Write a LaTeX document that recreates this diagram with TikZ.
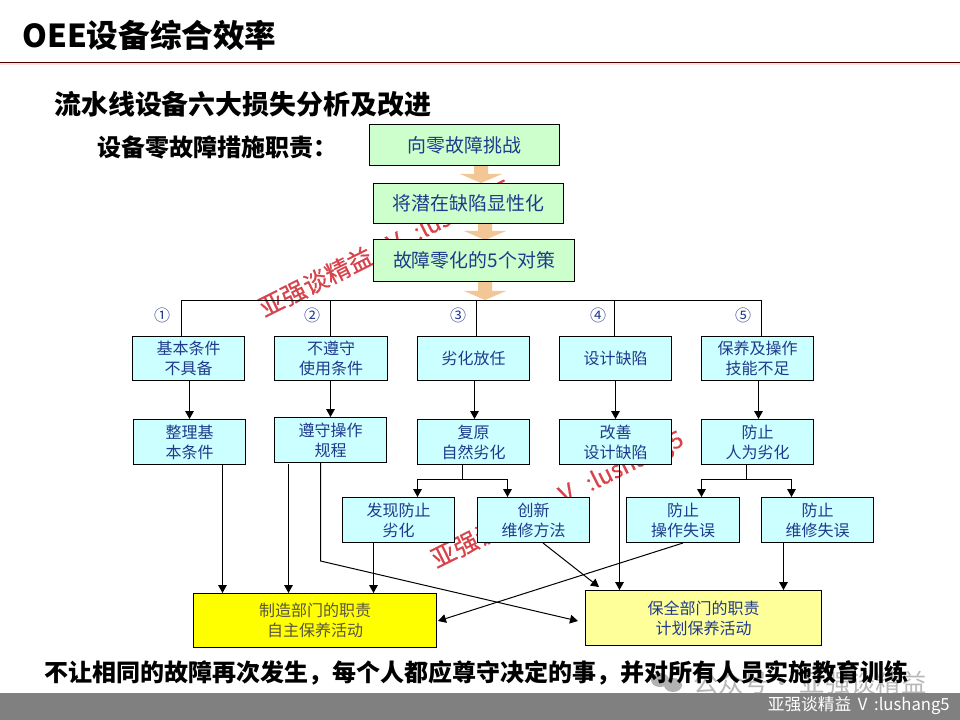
\documentclass[tikz,border=0pt]{standalone}
\usepackage{fontspec}
\setmainfont{Noto Sans CJK SC}
\newfontfamily\wmfont[FakeBold=0.5]{Noto Sans CJK SC}
\usetikzlibrary{arrows.meta,shapes.arrows}
\definecolor{inkblue}{HTML}{1F3A8C}
\definecolor{cyanbox}{HTML}{CCFFFF}
\definecolor{greenbox}{HTML}{CCFFCC}
\definecolor{paleyellow}{HTML}{FFFF99}
\definecolor{deepyellow}{HTML}{FFFF00}
\definecolor{wmred}{HTML}{D8434B}
\definecolor{fatfill}{HTML}{F2C795}
\tikzset{
  px/.style={x=0.75pt,y=-0.75pt},
  basebox/.style={draw=black,line width=0.8pt,inner sep=0pt,align=center,anchor=north west,text=inkblue,font=\fontsize{12}{15}\selectfont},
  lossbox/.style={basebox,fill=cyanbox},
  topbox/.style={basebox,fill=greenbox,font=\fontsize{14.2}{17}\selectfont},
  conn/.style={line width=0.75pt,draw=black},
  arr/.style={conn,-{Triangle[length=6pt,width=6.5pt]}},
  heading/.style={anchor=west,font=\bfseries\fontsize{20.2}{24}\selectfont,text=black},
  num/.style={text=inkblue,font=\fontsize{12}{14}\selectfont,inner sep=0pt},
  wm/.style={text=wmred,font=\wmfont\fontsize{18.5}{22}\selectfont,rotate=26.5,anchor=west,inner sep=0pt},
}
\newcommand{\bx}[7]{\node[#2,minimum width=#5*0.75pt-#3*0.75pt,minimum height=#6*0.75pt-#4*0.75pt] (#1) at (#3,#4) {#7};}
\newcommand{\wmtext}{亚强谈精益\hspace{0.8em}V\hspace{0.6em}{\fontsize{17.5}{22}\selectfont :lushang5}}
\begin{document}
\begin{tikzpicture}[px]
\useasboundingbox (0,0) rectangle (960,720);
\fill[white] (0,0) rectangle (960,720);
% watermarks
\node[wm] (wma) at (261,311) {\wmtext};
\node[wm] (wmb) at (433,562) {\wmtext};
\node[anchor=west,inner sep=0pt,text=black!28,font=\fontsize{19}{22}\selectfont] (wmc) at (693,683) {公众号·\hspace{4pt}亚强谈精益};
\fill[black!30] (660,680) ellipse [x radius=9,y radius=7];
\fill[black!30] (673,685) ellipse [x radius=9,y radius=7];
% footer
\fill[black!50] (0,693) rectangle (960,720);
\node[anchor=east,inner sep=0pt,text=white,font=\fontsize{12.5}{15}\selectfont] (foot) at (950,706) {亚强谈精益\hspace{0.4em}V\hspace{0.4em}:lushang5};
% header
\node[anchor=west,inner sep=0pt,font=\bfseries\fontsize{23.7}{28}\selectfont] (title) at (22,35) {OEE设备综合效率};
\fill[red!40!white,opacity=.3] (0,63) rectangle (960,65);
\draw[line width=0.75pt,draw=black!70!red] (0,62.5) -- (960,62.5);
\node[heading,inner sep=0pt] (sub) at (54,104) {流水线设备六大损失分析及改进};
\node[heading,inner sep=0pt,font=\bfseries\fontsize{18}{22}\selectfont] (sub2) at (97,147) {设备零故障措施职责：};
% fat arrows
\foreach \cx/\ya/\yb in {481/163/183,485/221/240,485/279/300}{
  \fill[fatfill] (\cx-7,\ya) -- (\cx+7,\ya) -- (\cx+7,\yb-9) -- (\cx+21,\yb-9) -- (\cx,\yb) -- (\cx-21,\yb-9) -- (\cx-7,\yb-9) -- cycle;
}
% top boxes
\bx{t1}{topbox}{369}{124}{559}{165}{向零故障挑战}
\bx{t2}{topbox}{373}{183}{563}{223}{将潜在缺陷显性化}
\bx{t3}{topbox}{373}{239}{574}{281}{故障零化的5个对策}
% row 1
\bx{a1}{lossbox}{132}{336}{244}{380}{基本条件\\不具备}
\bx{a2}{lossbox}{274}{336}{387}{380}{不遵守\\使用条件}
\bx{a3}{lossbox}{417}{336}{529}{380}{劣化放任}
\bx{a4}{lossbox}{559}{336}{671}{380}{设计缺陷}
\bx{a5}{lossbox}{701}{336}{813}{380}{保养及操作\\技能不足}
% row 2
\bx{b1}{lossbox}{133}{419}{245}{464}{整理基\\本条件}
\bx{b2}{lossbox}{274}{417}{386}{462}{遵守操作\\规程}
\bx{b3}{lossbox}{417}{419}{529}{464}{复原\\自然劣化}
\bx{b4}{lossbox}{559}{419}{671}{464}{改善\\设计缺陷}
\bx{b5}{lossbox}{701}{419}{813}{464}{防止\\人为劣化}
% row 3
\bx{c1}{lossbox}{342}{497}{454}{542}{发现防止\\劣化}
\bx{c2}{lossbox}{477}{497}{589}{542}{创新\\维修方法}
\bx{c3}{lossbox}{626}{497}{739}{542}{防止\\操作失误}
\bx{c4}{lossbox}{761}{497}{873}{542}{防止\\维修失误}
% bottom
\bx{d1}{basebox,fill=deepyellow,text=black!75!yellow}{193}{593}{436}{647}{制造部门的职责\\自主保养活动}
\bx{d2}{basebox,fill=paleyellow}{585}{590}{821}{645}{保全部门的职责\\计划保养活动}
% bus
\coordinate (bus1) at (181.5,300.5);
\coordinate (bus5) at (761.5,300.5);
\draw[conn] (bus1) -- (bus5);
\draw[conn] (bus1) -- (181.5,336);
\draw[conn] (330.5,300.5) -- (330.5,336);
\draw[conn] (476.5,300.5) -- (476.5,336);
\draw[conn] (614.5,300.5) -- (614.5,336);
\draw[conn] (bus5) -- (761.5,336);
% numbers
\node[num] (n1) at (162,315) {①};
\node[num] (n2) at (312,315) {②};
\node[num] (n3) at (458,315) {③};
\node[num] (n4) at (598,315) {④};
\node[num] (n5) at (743,315) {⑤};
% row1 -> row2
\draw[arr] (189.5,380) -- (189.5,419);
\draw[arr] (330.5,380) -- (330.5,417);
\draw[arr] (474.5,380) -- (474.5,419);
\draw[arr] (615.5,380) -- (615.5,419);
\draw[arr] (758.5,380) -- (758.5,419);
% splits
\draw[conn] (462.5,464) -- (462.5,479.5);
\draw[arr] (462.5,479.5) -- (417.5,479.5) -- (417.5,497);
\draw[arr] (462.5,479.5) -- (507.5,479.5) -- (507.5,497);
\draw[conn] (746.5,464) -- (746.5,479.5);
\draw[arr] (746.5,479.5) -- (701.5,479.5) -- (701.5,497);
\draw[arr] (746.5,479.5) -- (791.5,479.5) -- (791.5,497);
% to bottom
\draw[arr] (222.5,464) -- (222.5,593);
\draw[arr] (288.5,464) -- (288.5,593);
\draw[arr] (320.5,462) -- (320.5,561) -- (578,621);
\draw[arr] (373.5,542) -- (373.5,593);
\draw[arr] (543,543) -- (599,587);
\draw[arr] (619.5,464) -- (619.5,590);
\draw[arr] (683,543) -- (438,621);
\draw[arr] (783.5,542) -- (783.5,590);
% closing line
\node[anchor=west,inner sep=0pt,font=\bfseries\fontsize{18}{22}\selectfont] (close) at (44,673) {不让相同的故障再次发生，每个人都应尊守决定的事，并对所有人员实施教育训练};
\end{tikzpicture}
\end{document}
